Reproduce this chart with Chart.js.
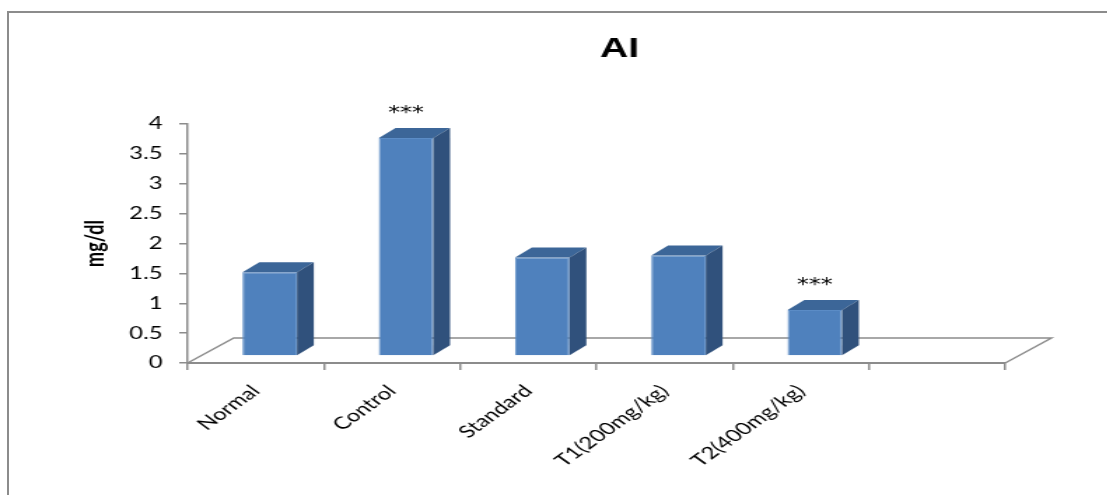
<!DOCTYPE html>
<html>
<head>
<meta charset="utf-8">
<script src="https://cdn.jsdelivr.net/npm/chart.js@4"></script>
<style>
  html, body { margin: 0; padding: 0; background: #fff; overflow: hidden; }
  body { width: 1107px; height: 495px; position: relative; }
  #frame { position: absolute; left: 7px; top: 11px; width: 1200px; height: 600px; border: 2px solid #8c8c8c; box-sizing: border-box; }
  #chart { position: absolute; left: 0; top: 0; transform: scaleX(1.4); transform-origin: 0 0; }
</style>
</head>
<body>
<div id="frame"></div>
<canvas id="chart" width="791" height="495"></canvas>
<script>
const chartTitle = 'AI';
const yAxisTitle = 'mg/dl';
const categories = ['Normal', 'Control', 'Standard', 'T1(200mg/kg)', 'T2(400mg/kg)', ''];
const values = [1.4, 3.65, 1.65, 1.68, 0.77, null];
const marks = ['', '***', '', '', '***', ''];

const frontColor = '#4f81bd';
const topColor = '#3c6698';
const sideColor = '#30517c';
const lineColor = '#8c8c8c';

// 3d look: bars sit a bit back on the floor, with a top and a side face
const lift = { dx: 10, dy: 7 };
const depth = { dx: 12, dy: 10 };
const floorDepth = { dx: 33, dy: 25 };

const bar3d = {
  id: 'bar3d',
  beforeDatasetsDraw(chart) {
    const { ctx, chartArea, scales } = chart;
    const y0 = scales.y.getPixelForValue(0);
    ctx.save();
    ctx.strokeStyle = lineColor;
    ctx.lineWidth = 1.5;
    ctx.beginPath();
    ctx.moveTo(chartArea.left, y0);
    ctx.lineTo(chartArea.left + floorDepth.dx, y0 - floorDepth.dy);
    ctx.lineTo(chartArea.right + floorDepth.dx, y0 - floorDepth.dy);
    ctx.lineTo(chartArea.right, y0);
    ctx.stroke();
    ctx.restore();

    ctx.save();
    ctx.translate(lift.dx, -lift.dy);
  },
  afterDatasetsDraw(chart) {
    const { ctx } = chart;
    const meta = chart.getDatasetMeta(0);
    meta.data.forEach((bar, i) => {
      if (values[i] == null) {
        return;
      }
      const { x, y, base, width } = bar.getProps(['x', 'y', 'base', 'width'], true);
      const l = x - width / 2;
      const r = x + width / 2;

      ctx.fillStyle = topColor;
      ctx.beginPath();
      ctx.moveTo(l, y);
      ctx.lineTo(l + depth.dx, y - depth.dy);
      ctx.lineTo(r + depth.dx, y - depth.dy);
      ctx.lineTo(r, y);
      ctx.closePath();
      ctx.fill();

      ctx.fillStyle = sideColor;
      ctx.beginPath();
      ctx.moveTo(r, y);
      ctx.lineTo(r + depth.dx, y - depth.dy);
      ctx.lineTo(r + depth.dx, base - depth.dy);
      ctx.lineTo(r, base);
      ctx.closePath();
      ctx.fill();

      if (marks[i]) {
        ctx.fillStyle = '#000';
        ctx.font = '17px "DejaVu Sans"';
        ctx.textAlign = 'center';
        ctx.textBaseline = 'middle';
        ctx.fillText(marks[i], x, y - 24);
      }
    });
    ctx.restore();
  },
  afterDraw(chart) {
    const { ctx, chartArea } = chart;
    ctx.save();
    ctx.fillStyle = '#000';
    ctx.font = 'bold 28px "Liberation Sans"';
    ctx.textAlign = 'center';
    ctx.textBaseline = 'middle';
    ctx.fillText(chartTitle, (chartArea.left + chartArea.right + floorDepth.dx) / 2, 49);
    ctx.restore();
  }
};

const ctx = document.getElementById('chart').getContext('2d');

const chart = new Chart(ctx, {
  type: 'bar',
  data: {
    labels: categories,
    datasets: [{
      data: values,
      backgroundColor: frontColor,
      borderColor: '#5b8cc6',
      borderWidth: 1,
      barPercentage: 0.4,
      categoryPercentage: 1
    }]
  },
  options: {
    responsive: false,
    animation: false,
    devicePixelRatio: 1,
    layout: {
      padding: { top: 124, right: 73, bottom: 0, left: 0 }
    },
    plugins: {
      legend: { display: false },
      title: { display: false },
      tooltip: { enabled: false }
    },
    scales: {
      x: {
        afterFit(scale) {
          scale.height = 132;
        },
        grid: {
          drawOnChartArea: false,
          drawTicks: true,
          tickLength: 7,
          color: lineColor,
          lineWidth: 1.5
        },
        border: { display: true, color: lineColor, width: 2 },
        ticks: {
          minRotation: 45,
          maxRotation: 45,
          padding: 11,
          color: '#000',
          font: { family: 'Lato', size: 17 }
        }
      },
      y: {
        min: 0,
        max: 4,
        afterFit(scale) {
          scale.width = 134;
        },
        grid: {
          drawOnChartArea: false,
          drawTicks: true,
          tickLength: 6,
          color: lineColor,
          lineWidth: 1.5
        },
        border: { display: true, color: lineColor, width: 1.5 },
        ticks: {
          stepSize: 0.5,
          padding: 12,
          color: '#000',
          font: { family: 'Lato', size: 17 },
          callback: value => String(value)
        },
        title: {
          display: true,
          text: yAxisTitle,
          color: '#000',
          padding: { top: 57, bottom: 0 },
          font: { family: 'Lato', size: 18, weight: 'bold' }
        }
      }
    }
  },
  plugins: [bar3d]
});
</script>
</body>
</html>
